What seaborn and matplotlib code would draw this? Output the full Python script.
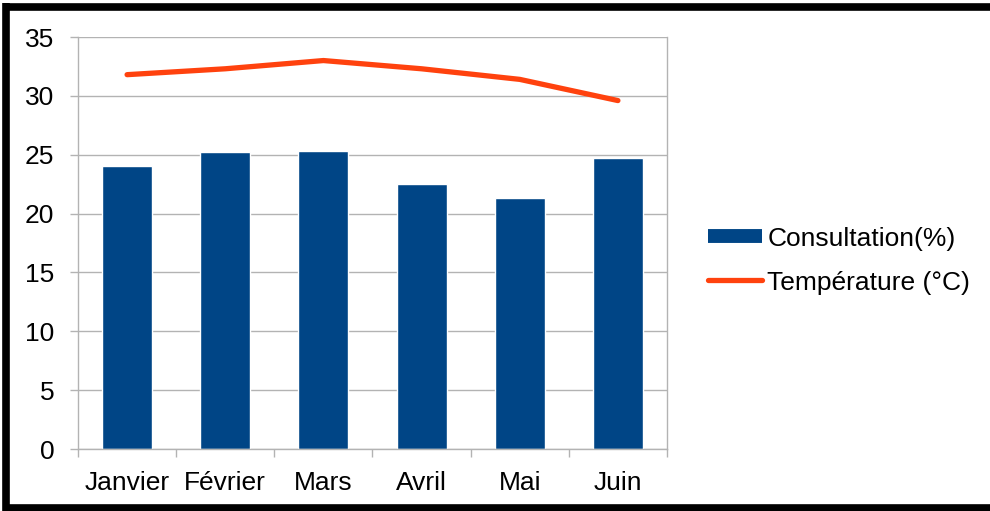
import numpy as np
import pandas as pd
import seaborn as sns
import matplotlib.pyplot as plt
from matplotlib.lines import Line2D

# Data
mois = ['Janvier', 'Février', 'Mars', 'Avril', 'Mai', 'Juin']
consultation = [24.0, 25.2, 25.3, 22.5, 21.3, 24.7]
temperature = [31.8, 32.3, 33.0, 32.3, 31.4, 29.6]

df = pd.DataFrame({'mois': mois, 'consultation': consultation,
                   'temperature': temperature, 'pos': np.arange(len(mois))})

sns.set_style('white')
plt.rcParams['font.family'] = ['Liberation Sans', 'DejaVu Sans']
plt.rcParams['text.color'] = 'black'
plt.rcParams['xtick.labelcolor'] = 'black'
plt.rcParams['ytick.labelcolor'] = 'black'

bar_color = '#004586'
line_color = '#ff420e'
grid_color = '#b3b3b3'
fs = 19

fig = plt.figure(figsize=(9.9, 5.11), dpi=100)
ax = fig.add_axes([78 / 990, 62 / 511, (667 - 78) / 990, (449 - 37) / 511])

sns.barplot(data=df, x='mois', y='consultation', color=bar_color, width=0.51,
            saturation=1, ax=ax, zorder=2)
sns.lineplot(data=df, x='pos', y='temperature', color=line_color, linewidth=3.8,
             ax=ax, zorder=3, solid_capstyle='round')

ax.set_xlim(-0.5, len(mois) - 0.5)
ax.set_ylim(0, 35)
ax.set_yticks(range(0, 36, 5))
ax.set_xticks(range(len(mois)))
ax.set_xticklabels(mois)
ax.set_xticks(np.arange(-0.5, len(mois), 1), minor=True)
ax.set_xlabel('')
ax.set_ylabel('')

ax.yaxis.grid(True, color=grid_color, linewidth=1)
ax.set_axisbelow(True)
for side in ['left', 'right', 'bottom']:
    ax.spines[side].set_visible(True)
    ax.spines[side].set_color(grid_color)
    ax.spines[side].set_linewidth(1)
ax.spines['top'].set_visible(False)

ax.tick_params(axis='y', which='major', length=6, width=1, color=grid_color,
               pad=11, labelsize=fs, left=True, labelcolor='black')
ax.tick_params(axis='x', which='major', length=0, pad=15.5, labelsize=fs,
               labelcolor='black')
ax.tick_params(axis='x', which='minor', length=6, width=1, color=grid_color,
               bottom=True)

handles = [Line2D([0], [0], color=bar_color, linewidth=10, solid_capstyle='butt'),
           Line2D([0], [0], color=line_color, linewidth=3.8, solid_capstyle='round')]
fig.legend(handles, ['Consultation(%)', 'Température (°C)'], loc='center left',
           bbox_to_anchor=(0.691, 0.49), frameon=False, fontsize=fs,
           handlelength=2.05, handletextpad=0.2, labelspacing=0.75,
           labelcolor='black')

# thick black frame around the picture
for xs, ys in [([0.003, 1.0], [0.987, 0.987]),
               ([0.0065, 0.0065], [0.0, 0.994]),
               ([0.003, 1.0], [0.005, 0.005])]:
    fig.add_artist(Line2D(xs, ys, color='black', linewidth=5.5,
                          solid_capstyle='butt', transform=fig.transFigure))

fig.savefig('out.png', dpi=100)
